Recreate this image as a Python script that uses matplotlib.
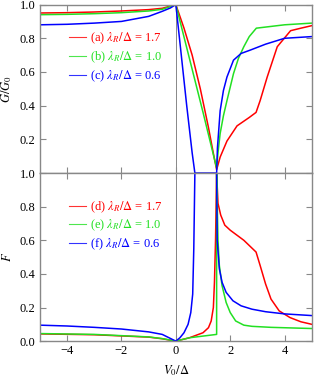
import numpy as np
import matplotlib
matplotlib.use("Agg")
import matplotlib.pyplot as plt

plt.rcParams["font.family"] = ["Liberation Serif", "DejaVu Serif"]
plt.rcParams["mathtext.fontset"] = "stix"
plt.rcParams["font.size"] = 9

RED = "#ff0000"
GREEN = "#22e022"
BLUE = "#0000ff"
GRAY = "#888888"

# top panel: G/G0
g_red_x = [-5, -4, -3, -2, -1, -0.5, 0, 0.3, 0.6, 0.9, 1.2, 1.4, 1.5,
           1.63, 1.88, 2.25, 2.7, 2.95, 3.1, 3.36, 3.73, 4.22, 4.6, 5]
g_red_y = [0.95, 0.952, 0.956, 0.962, 0.97, 0.978, 1.0, 0.86, 0.70, 0.50, 0.27, 0.10, 0.02,
           0.095, 0.19, 0.28, 0.33, 0.36, 0.43, 0.57, 0.75, 0.845, 0.86, 0.875]

g_green_x = [-5, -4, -3, -2, -1, -0.5, 0, 0.5, 1.0, 1.5,
             1.55, 1.63, 1.75, 1.88, 2.12, 2.3, 2.5, 2.7, 2.96, 4, 5]
g_green_y = [0.94, 0.942, 0.946, 0.952, 0.962, 0.972, 1.0, 0.68, 0.36, 0.03,
             0.12, 0.235, 0.34, 0.43, 0.59, 0.68, 0.75, 0.81, 0.86, 0.88, 0.89]

g_blue_x = [-5, -4, -3, -2, -1, -0.5, -0.2, 0, 0.2, 0.4, 0.6, 0.7, 1.5,
            1.53, 1.63, 1.75, 1.88, 2.12, 2.4, 2.74, 3.3, 4, 5]
g_blue_y = [0.88, 0.883, 0.89, 0.90, 0.93, 0.96, 0.98, 1.0, 0.70, 0.40, 0.12, 0.0, 0.0,
            0.15, 0.37, 0.49, 0.57, 0.67, 0.71, 0.73, 0.765, 0.80, 0.81]

# bottom panel: F
f_red_x = [-5, -3, -1, -0.5, 0, 0.5, 1.0, 1.2, 1.3, 1.38, 1.42, 1.46, 1.5,
           1.55, 1.65, 1.8, 2.0, 2.5, 2.95, 3.1, 3.3, 3.5, 3.8, 4.2, 4.6, 5]
f_red_y = [0.043, 0.038, 0.024, 0.014, 0.0, 0.02, 0.05, 0.08, 0.12, 0.2, 0.35, 0.6, 1.0,
           0.82, 0.75, 0.69, 0.66, 0.6, 0.53, 0.45, 0.34, 0.25, 0.18, 0.14, 0.115, 0.10]

f_green_x = [-5, -3, -1, -0.5, 0, 0.5, 1.0, 1.5, 1.5,
             1.55, 1.6, 1.7, 1.85, 2.0, 2.2, 2.5, 2.8, 3.5, 5]
f_green_y = [0.045, 0.04, 0.025, 0.015, 0.0, 0.02, 0.03, 0.04, 1.0,
             0.6, 0.45, 0.33, 0.23, 0.17, 0.12, 0.095, 0.088, 0.082, 0.075]

f_blue_x = [-5, -4, -3, -2, -1, -0.5, 0, 0.15, 0.3, 0.45, 0.55, 0.62, 0.66, 0.7, 1.5,
            1.52, 1.6, 1.7, 1.85, 2.1, 2.4, 2.8, 3.3, 4, 5]
f_blue_y = [0.095, 0.09, 0.082, 0.072, 0.055, 0.04, 0.0, 0.02, 0.05, 0.10, 0.17, 0.28, 0.55, 1.0, 1.0,
            0.6, 0.43, 0.35, 0.29, 0.24, 0.21, 0.19, 0.175, 0.162, 0.152]

top_labels = [r"(a) $\lambda_R/\Delta$ = 1.7", r"(b) $\lambda_R/\Delta$ = 1.0", r"(c) $\lambda_R/\Delta$ = 0.6"]
bot_labels = [r"(d) $\lambda_R/\Delta$ = 1.7", r"(e) $\lambda_R/\Delta$ = 1.0", r"(f) $\lambda_R/\Delta$ = 0.6"]

fig = plt.figure(figsize=(3.14, 3.82), dpi=100)
ax1 = fig.add_axes([0.127, 0.547, 0.866, 0.441])
ax2 = fig.add_axes([0.127, 0.107, 0.866, 0.440])

lw = 1.1
ax1.plot(g_red_x, g_red_y, color=RED, lw=lw, label=top_labels[0])
ax1.plot(g_green_x, g_green_y, color=GREEN, lw=lw, label=top_labels[1])
ax1.plot(g_blue_x, g_blue_y, color=BLUE, lw=lw, label=top_labels[2])

ax2.plot(f_red_x, f_red_y, color=RED, lw=lw, label=bot_labels[0])
ax2.plot(f_green_x, f_green_y, color=GREEN, lw=lw, label=bot_labels[1])
ax2.plot(f_blue_x, f_blue_y, color=BLUE, lw=lw, label=bot_labels[2])

for ax in (ax1, ax2):
    ax.set_xlim(-5, 5)
    ax.set_ylim(0, 1)
    ax.axvline(0, color=GRAY, lw=0.7, zorder=0)
    for s in ax.spines.values():
        s.set_color(GRAY)
        s.set_linewidth(1.0)
    ax.set_xticks([-4, -2, 0, 2, 4])
    ax.tick_params(direction="in", top=True, right=True, length=4, color=GRAY, width=0.8,
                   labelsize=9, pad=3)
    leg = ax.legend(loc="upper left", bbox_to_anchor=(0.083, 0.88), frameon=False,
                    handlelength=1.4, handletextpad=0.3, labelspacing=0.25,
                    borderpad=0, fontsize=9, labelcolor="linecolor")
    for h in leg.get_lines():
        h.set_linewidth(0.8)
        h.set_alpha(0.8)

ax1.set_yticks([0.2, 0.4, 0.6, 0.8, 1.0])
ax1.set_yticklabels(["0.2", "0.4", "0.6", "0.8", "1.0"])
ax1.tick_params(labelbottom=False)
ax2.set_yticks([0, 0.2, 0.4, 0.6, 0.8, 1.0])
ax2.set_yticklabels(["0.0", "0.2", "0.4", "0.6", "0.8", "1.0"])
ax2.set_xticklabels(["\u22124", "\u22122", "0", "2", "4"])

ax1.set_ylabel(r"$G/G_0$", fontsize=9, labelpad=4)
ax2.set_ylabel(r"$F$", fontsize=9, labelpad=4)
ax2.set_xlabel(r"$V_0/\Delta$", fontsize=9, labelpad=4)

fig.savefig("out.png", dpi=100)
